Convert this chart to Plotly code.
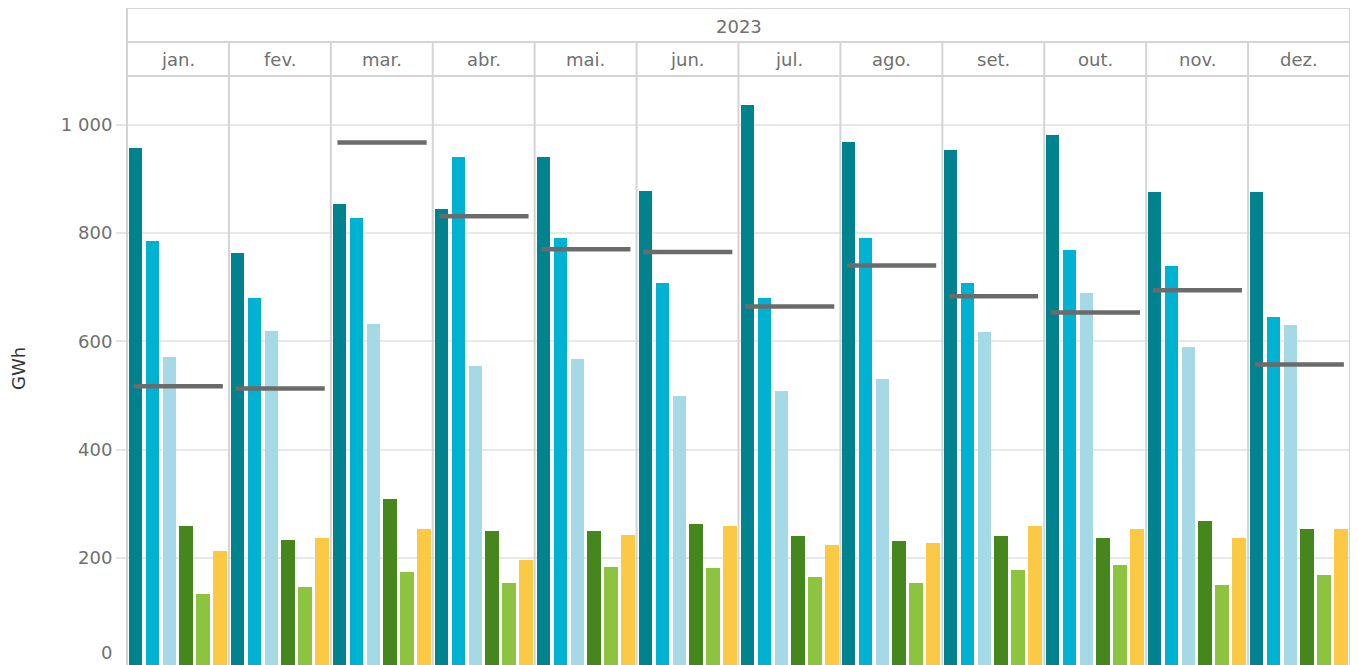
import plotly.graph_objects as go
from plotly.subplots import make_subplots

year_label = "2023"
months = ["jan.", "fev.", "mar.", "abr.", "mai.", "jun.", "jul.", "ago.", "set.", "out.", "nov.", "dez."]
series_names = ["Série A", "Série B", "Série C", "Série D", "Série E", "Série F"]

teal = [957, 763, 853, 844, 940, 877, 1036, 968, 953, 981, 876, 876]
cyan = [785, 680, 828, 940, 791, 708, 680, 791, 708, 768, 739, 645]
light_blue = [571, 619, 632, 554, 567, 499, 508, 530, 617, 689, 589, 630]
dark_green = [259, 233, 309, 250, 250, 263, 240, 231, 240, 237, 268, 253]
light_green = [134, 147, 174, 154, 183, 181, 165, 154, 178, 187, 150, 168]
yellow = [213, 237, 253, 196, 242, 259, 224, 228, 259, 253, 237, 253]
reference_line = [517, 513, 967, 831, 770, 765, 664, 740, 683, 653, 694, 557]

y_tick_vals = [200, 400, 600, 800, 1000]
y_tick_text = ["200", "400", "600", "800", "1 000"]

series = [teal, cyan, light_blue, dark_green, light_green, yellow]
colors = ["#00838f", "#00b2d1", "#a6d9e6", "#46871d", "#8cc43f", "#fcc944"]

# page offset (browser body margin)
OFF = 8
SCREEN_W, SCREEN_H = 1358, 665
W, H = SCREEN_W - OFF, SCREEN_H - OFF
PL, PR, PT, PB = 127, 1350, 76, 665          # plot area in screen pixels
ML, MR, MT, MB = PL - OFF, (W + OFF) - PR, PT - OFF, (H + OFF) - PB
plot_w = PR - PL
plot_h = PB - PT

def py(pix):
    return (PB - pix) / plot_h

def px(pix):
    return (pix - PL) / plot_w

FONT = "DejaVu Sans"
TXT = "#707070"

n = len(months)
fig = make_subplots(rows=1, cols=n, shared_yaxes=True, horizontal_spacing=0)

for i in range(n):
    vals = [s[i] for s in series]
    fig.add_trace(go.Bar(x=series_names, y=vals, marker=dict(color=colors, line=dict(width=0)),
                         width=0.82, showlegend=False, hoverinfo="skip"), row=1, col=i + 1)
    xr = "x domain" if i == 0 else f"x{i+1} domain"
    yr = "y" if i == 0 else f"y{i+1}"
    fig.add_shape(type="line", xref=xr, yref=yr, x0=0.065, x1=0.94,
                  y0=reference_line[i], y1=reference_line[i],
                  line=dict(color="#6b6b6b", width=4.5), layer="above")
    fig.update_xaxes(type="category", categoryorder="array", categoryarray=series_names,
                     range=[-0.5, 5.5], showticklabels=False, showgrid=False, zeroline=False,
                     showline=False, ticks="", row=1, col=i + 1)

fig.update_yaxes(range=[2.4, 1089.7], tickvals=y_tick_vals, ticktext=y_tick_text,
                 showgrid=True, gridcolor="#e8e8e8", gridwidth=2, zeroline=False, showline=False)
fig.update_yaxes(ticks="outside", ticklen=10, tickcolor="#e6e6e6", tickwidth=2,
                 tickfont=dict(family=FONT, size=18, color=TXT), row=1, col=1)

border = dict(color="#d4d4d4", width=2)
y_top = py(8)
y_mid = py(42)
y_bot = 1.0
fig.add_shape(type="line", xref="paper", yref="paper", x0=0, x1=1, y0=y_top, y1=y_top, line=border)
fig.add_shape(type="line", xref="paper", yref="paper", x0=0, x1=1, y0=y_mid, y1=y_mid, line=border)
fig.add_shape(type="line", xref="paper", yref="paper", x0=0, x1=1, y0=y_bot, y1=y_bot, line=border)
for k in range(n + 1):
    top = y_top if k in (0, n) else y_mid
    fig.add_shape(type="line", xref="paper", yref="paper", x0=k / n, x1=k / n, y0=-0.01, y1=top, line=border)

fig.add_annotation(text=year_label, xref="paper", yref="paper", x=0.5, y=py(26),
                   xanchor="center", yanchor="middle",
                   showarrow=False, font=dict(family=FONT, size=18, color=TXT))
for i, m in enumerate(months):
    fig.add_annotation(text=m, xref="paper", yref="paper", x=(i + 0.5) / n, y=py(60),
                       xanchor="center", yanchor="middle",
                       showarrow=False, font=dict(family=FONT, size=18, color=TXT))

fig.add_annotation(text="0", xref="paper", yref="paper", x=px(114), y=py(652),
                   xanchor="right", yanchor="middle", showarrow=False,
                   font=dict(family=FONT, size=18, color=TXT))
fig.add_annotation(text="GWh", xref="paper", yref="paper", x=px(18), y=py(369),
                   xanchor="center", yanchor="middle",
                   textangle=-90, showarrow=False, font=dict(family=FONT, size=18, color="#333333"))

fig.update_layout(width=W, height=H, margin=dict(l=ML, r=MR, t=MT, b=MB),
                  plot_bgcolor="white", paper_bgcolor="white", bargap=0, showlegend=False)

fig.write_html("out.html", config={"displayModeBar": False})
